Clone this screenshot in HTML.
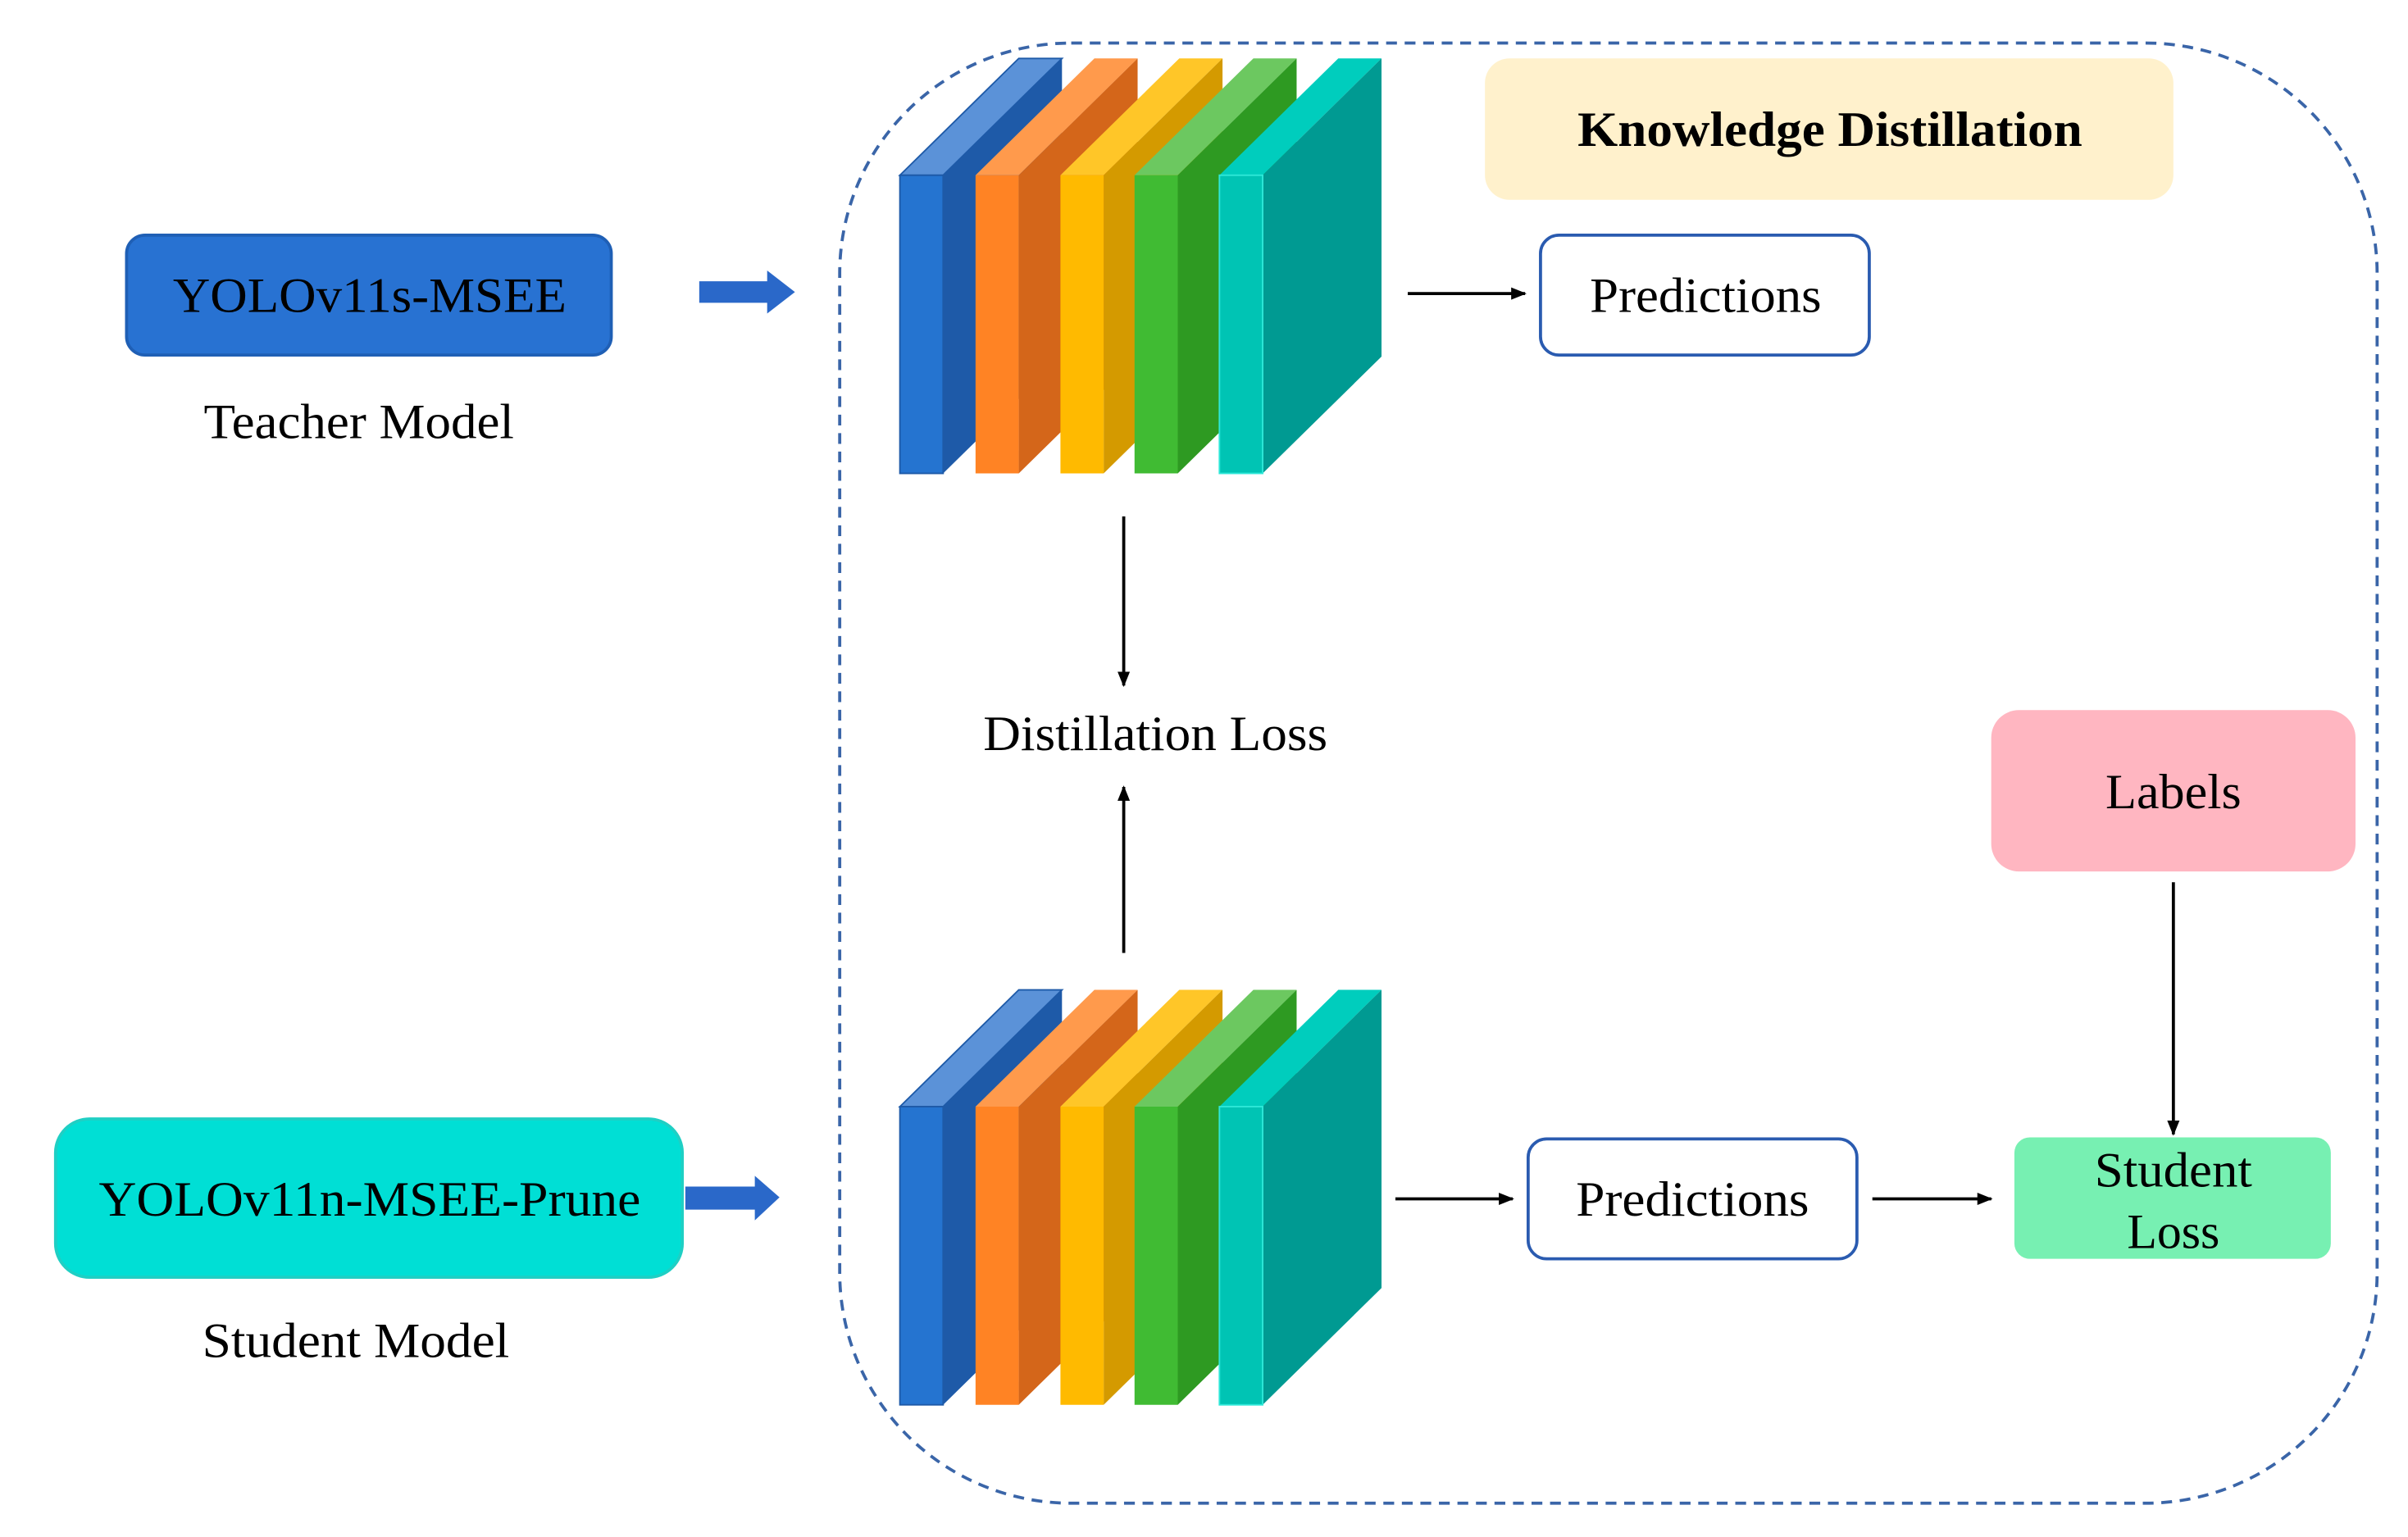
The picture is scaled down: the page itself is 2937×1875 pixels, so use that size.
<!DOCTYPE html>
<html><head><meta charset="utf-8"><style>html,body{margin:0;padding:0;background:#fff}svg{display:block}</style></head>
<body>
<svg width="2937" height="1875" viewBox="0 0 1560 1000" preserveAspectRatio="none" xmlns="http://www.w3.org/2000/svg" font-family="Liberation Serif, serif">
<defs>
<marker id="ah" markerWidth="10" markerHeight="10" refX="9" refY="5" orient="auto" markerUnits="userSpaceOnUse"><path d="M0,1 L10,5 L0,9 Z" fill="#000"/></marker>
<g id="stack">
  <polygon points="583,114 660,38 688,38 611,114" fill="#5b92d8" stroke="#1e5aa8" stroke-width="1"/>
  <polygon points="611,114 688,38 688,232 611,308" fill="#1e5aa8"/>
  <rect x="583" y="114" width="28" height="194" fill="#2574d0" stroke="#1e5aa8" stroke-width="1"/>
  <polygon points="632,114 709,38 737,38 660,114" fill="#ff9a4c"/>
  <polygon points="660,114 737,38 737,232 660,308" fill="#d4661a"/>
  <rect x="632" y="114" width="28" height="194" fill="#ff8324"/>
  <polygon points="687,114 764,38 792,38 715,114" fill="#ffc628"/>
  <polygon points="715,114 792,38 792,232 715,308" fill="#d49a00"/>
  <rect x="687" y="114" width="28" height="194" fill="#ffba00"/>
  <polygon points="735,114 812,38 840,38 763,114" fill="#6cc860"/>
  <polygon points="763,114 840,38 840,232 763,308" fill="#2e9a22"/>
  <rect x="735" y="114" width="28" height="194" fill="#40bb33"/>
  <polygon points="790,114 867,38 895,38 818,114" fill="#00cdbd"/>
  <polygon points="818,114 895,38 895,232 818,308" fill="#009a92"/>
  <rect x="790" y="114" width="28" height="194" fill="#00c4b4" stroke="#2ee8d8" stroke-width="1"/>
</g>
</defs>
<rect x="0" y="0" width="1560" height="1000" fill="#fff"/>
<rect x="544" y="28" width="996" height="950" rx="150" ry="150" fill="none" stroke="#3a65a8" stroke-width="2" stroke-dasharray="7,5"/>
<use href="#stack"/>
<use href="#stack" transform="translate(0,606)"/>

<rect x="962" y="38" width="446" height="92" rx="16" fill="#fff1cc"/>
<text x="1022" y="95" font-size="32" font-weight="bold" textLength="327" lengthAdjust="spacingAndGlyphs">Knowledge Distillation</text>

<rect x="998" y="153" width="213" height="78" rx="12" fill="#fff" stroke="#2a5bb0" stroke-width="2"/>
<text x="1030" y="203" font-size="32" textLength="150" lengthAdjust="spacingAndGlyphs">Predictions</text>
<line x1="912" y1="191" x2="988" y2="191" stroke="#000" stroke-width="2" marker-end="url(#ah)"/>

<rect x="82" y="153" width="314" height="78" rx="12" fill="#2872d2" stroke="#1f5fb5" stroke-width="2"/>
<text x="112" y="203" font-size="32" textLength="255" lengthAdjust="spacingAndGlyphs">YOLOv11s-MSEE</text>
<text x="132" y="285" font-size="32" textLength="201" lengthAdjust="spacingAndGlyphs">Teacher Model</text>
<polygon points="453,183 497,183 497,176 515,190 497,204 497,197 453,197" fill="#2a68c9"/>

<line x1="728" y1="336" x2="728" y2="446" stroke="#000" stroke-width="2" marker-end="url(#ah)"/>
<text x="637" y="488" font-size="32" textLength="223" lengthAdjust="spacingAndGlyphs">Distillation Loss</text>
<line x1="728" y1="620" x2="728" y2="512" stroke="#000" stroke-width="2" marker-end="url(#ah)"/>

<rect x="1290" y="462" width="236" height="105" rx="18" fill="#ffb6c1"/>
<text x="1364" y="526" font-size="32" textLength="88" lengthAdjust="spacingAndGlyphs">Labels</text>
<line x1="1408" y1="574" x2="1408" y2="738" stroke="#000" stroke-width="2" marker-end="url(#ah)"/>

<rect x="1305" y="740" width="205" height="79" rx="10" fill="#77f0b2"/>
<text x="1357" y="772" font-size="32" textLength="102" lengthAdjust="spacingAndGlyphs">Student</text>
<text x="1378" y="812" font-size="32" textLength="60" lengthAdjust="spacingAndGlyphs">Loss</text>

<rect x="990" y="741" width="213" height="78" rx="12" fill="#fff" stroke="#2a5bb0" stroke-width="2"/>
<text x="1021" y="791" font-size="32" textLength="151" lengthAdjust="spacingAndGlyphs">Predictions</text>
<line x1="904" y1="780" x2="980" y2="780" stroke="#000" stroke-width="2" marker-end="url(#ah)"/>
<line x1="1213" y1="780" x2="1290" y2="780" stroke="#000" stroke-width="2" marker-end="url(#ah)"/>

<rect x="36" y="728" width="406" height="103" rx="22" fill="#00dfd5" stroke="#1fcfc4" stroke-width="2"/>
<text x="64" y="791" font-size="32" textLength="351" lengthAdjust="spacingAndGlyphs">YOLOv11n-MSEE-Prune</text>
<text x="131" y="883" font-size="32" textLength="199" lengthAdjust="spacingAndGlyphs">Student Model</text>
<polygon points="444,772 489,772 489,765 505,779 489,794 489,787 444,787" fill="#2a68c9"/>
</svg>
</body></html>
